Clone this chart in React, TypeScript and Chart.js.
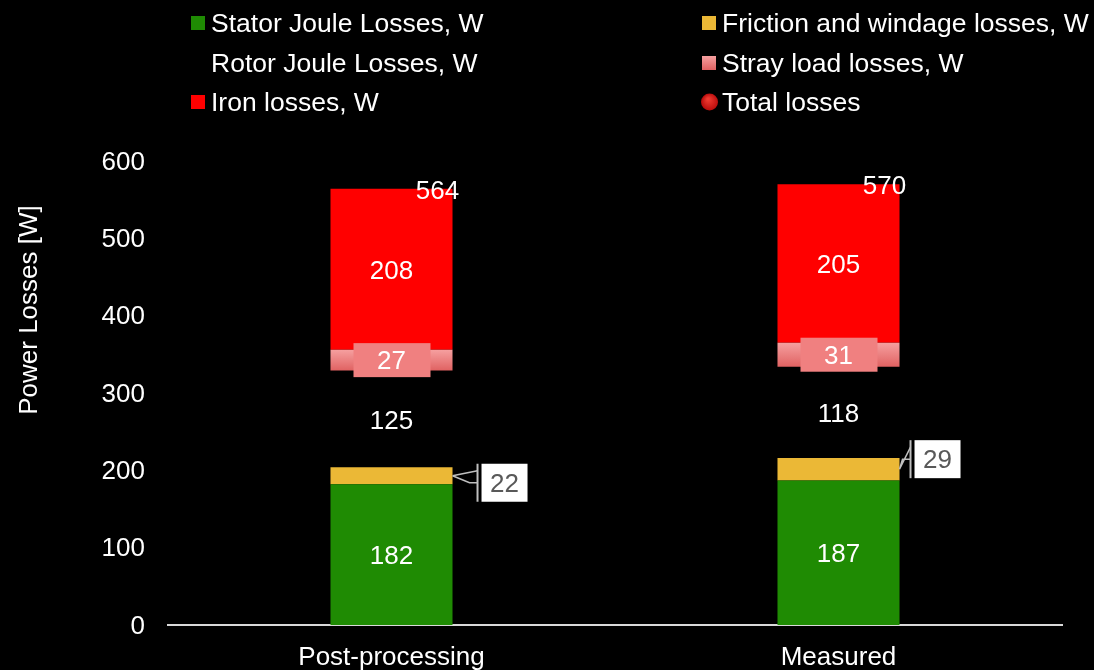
import React, { useEffect, useRef } from 'react';
import { Chart, registerables } from 'chart.js';

Chart.register(...registerables);

const categories = ['Post-processing', 'Measured'];
const statorJoule = [182, 187];
const frictionWindage = [22, 29];
const rotorJoule = [125, 118];
const strayLoad = [27, 31];
const ironLosses = [208, 205];
const totalLosses = [564, 570];
const yAxisMin = 0;
const yAxisMax = 600;
const yAxisStep = 100;
const yAxisTitle = 'Power Losses [W]';
const seriesNames = [
  'Stator Joule Losses, W',
  'Friction and windage losses, W',
  'Rotor Joule Losses, W',
  'Stray load losses, W',
  'Iron losses, W',
  'Total losses',
];

const FONT = '"Liberation Sans", Arial, Helvetica, sans-serif';
const GREEN = '#1f8b03';
const GOLD = '#ebb836';
const RED = '#ff0000';
const CORAL = '#f08080';

// label box offsets for the friction call-outs (style, not data)
const frictionCallout = [
  { dx: 29, dy: 7 },
  { dx: 15, dy: -10 },
];

function strayGradient(c: CanvasRenderingContext2D, top: number, bottom: number) {
  const g = c.createLinearGradient(0, top, 0, bottom);
  g.addColorStop(0, '#f6a0a0');
  g.addColorStop(1, '#e06262');
  return g;
}

const legendPlugin = {
  id: 'customLegend',
  afterDraw(chart: any) {
    const ctx: CanvasRenderingContext2D = chart.ctx;
    const cols = [191, 702];
    const rows = [23, 63, 102];
    ctx.save();
    ctx.font = `26.5px ${FONT}`;
    ctx.textBaseline = 'middle';
    ctx.textAlign = 'left';
    chart.data.datasets.forEach((ds: any, i: number) => {
      const cx = cols[i % 2];
      const cy = rows[Math.floor(i / 2)];
      if (ds.legendKind === 'circle') {
        const r = 8.5;
        const g = ctx.createRadialGradient(cx + 6, cy - 3, 1, cx + 8, cy, r);
        g.addColorStop(0, '#ee3a30');
        g.addColorStop(1, '#b80c0c');
        ctx.fillStyle = g;
        ctx.beginPath();
        ctx.arc(cx + 7.5, cy, r, 0, Math.PI * 2);
        ctx.fill();
      } else if (ds.legendKind === 'gradient') {
        ctx.fillStyle = strayGradient(ctx, cy - 7, cy + 7);
        ctx.fillRect(cx, cy - 7, 14, 14);
      } else {
        ctx.fillStyle = ds.legendColor;
        ctx.fillRect(cx, cy - 7, 14, 14);
      }
      ctx.fillStyle = '#ffffff';
      ctx.fillText(ds.label, cx + 20, cy + 1.5);
    });
    // y-axis title
    ctx.save();
    ctx.font = `26px ${FONT}`;
    ctx.translate(30, 310);
    ctx.rotate(-Math.PI / 2);
    ctx.textAlign = 'center';
    ctx.fillText(yAxisTitle, 0, 0);
    ctx.restore();
    ctx.restore();
  },
};

const valueLabelPlugin = {
  id: 'valueLabels',
  afterDatasetsDraw(chart: any) {
    const ctx: CanvasRenderingContext2D = chart.ctx;
    ctx.save();
    ctx.font = `26px ${FONT}`;
    ctx.textAlign = 'center';
    ctx.textBaseline = 'middle';
    chart.data.datasets.forEach((ds: any, di: number) => {
      const meta = chart.getDatasetMeta(di);
      meta.data.forEach((el: any, i: number) => {
        const v = ds.data[i];
        const p = el.getProps(['x', 'y', 'base', 'width'], true);
        const text = String(v);
        if (ds.labelKind === 'total') {
          ctx.fillStyle = '#ffffff';
          ctx.fillText(text, p.x + 46, p.y + 3);
          return;
        }
        const cy = (p.y + p.base) / 2;
        if (ds.labelKind === 'plain') {
          ctx.fillStyle = '#ffffff';
          ctx.fillText(text, p.x, cy + 2.5);
        } else if (ds.labelKind === 'boxed') {
          ctx.fillStyle = CORAL;
          ctx.fillRect(p.x - 38, cy - 17, 77, 34);
          ctx.fillStyle = '#ffffff';
          ctx.fillText(text, p.x, cy + 2);
        } else if (ds.labelKind === 'callout') {
          const off = frictionCallout[i];
          const right = p.x + p.width / 2;
          const bx = right + off.dx;
          const by = cy + off.dy - 19;
          const vx = bx - 4;
          ctx.strokeStyle = '#bfbfbf';
          ctx.lineWidth = 1.5;
          ctx.beginPath();
          ctx.moveTo(right, cy);
          ctx.lineTo(vx, by + 7);
          ctx.moveTo(right, cy);
          ctx.lineTo(vx - 8, by + 19);
          ctx.lineTo(vx, by + 19);
          ctx.stroke();
          ctx.lineWidth = 2;
          ctx.beginPath();
          ctx.moveTo(vx, by);
          ctx.lineTo(vx, by + 38);
          ctx.stroke();
          ctx.fillStyle = '#ffffff';
          ctx.fillRect(bx, by, 46, 38);
          ctx.fillStyle = '#595959';
          ctx.fillText(text, bx + 23, by + 21);
        }
      });
    });
    ctx.restore();
  },
};

export default function App() {
  const canvasRef = useRef<HTMLCanvasElement | null>(null);

  useEffect(() => {
    const canvas = canvasRef.current;
    if (!canvas) return;
    const strayBg = (c: any) => {
      const chart = c.chart;
      const y = chart.scales && chart.scales.y;
      const i = c.dataIndex;
      if (!y || i === undefined || c.type !== 'data') return CORAL;
      const start = statorJoule[i] + frictionWindage[i] + rotorJoule[i];
      const top = y.getPixelForValue(start + strayLoad[i]);
      const bottom = y.getPixelForValue(start);
      if (!isFinite(top) || !isFinite(bottom)) return CORAL;
      return strayGradient(chart.ctx, top, bottom);
    };
    const barCommon = {
      type: 'bar' as const,
      stack: 'losses',
      borderWidth: 0,
      barPercentage: 0.273,
      categoryPercentage: 1,
    };
    const chart = new Chart(canvas, {
      type: 'bar',
      data: {
        labels: categories,
        datasets: [
          { ...barCommon, label: seriesNames[0], data: statorJoule, backgroundColor: GREEN, legendColor: GREEN, labelKind: 'plain' } as any,
          { ...barCommon, label: seriesNames[1], data: frictionWindage, backgroundColor: GOLD, legendColor: GOLD, labelKind: 'callout' } as any,
          { ...barCommon, label: seriesNames[2], data: rotorJoule, backgroundColor: 'rgba(0,0,0,0)', legendColor: 'rgba(0,0,0,0)', labelKind: 'plain' } as any,
          { ...barCommon, label: seriesNames[3], data: strayLoad, backgroundColor: strayBg, legendKind: 'gradient', labelKind: 'boxed' } as any,
          { ...barCommon, label: seriesNames[4], data: ironLosses, backgroundColor: RED, legendColor: RED, labelKind: 'plain' } as any,
          {
            type: 'line',
            label: seriesNames[5],
            data: totalLosses,
            stack: 'total',
            showLine: false,
            pointRadius: 0,
            pointHoverRadius: 0,
            borderColor: '#c00000',
            backgroundColor: '#c00000',
            legendKind: 'circle',
            labelKind: 'total',
          } as any,
        ],
      },
      options: {
        responsive: false,
        animation: false,
        devicePixelRatio: 1,
        layout: { padding: { top: 161, right: 32, left: 0, bottom: 0 } },
        plugins: {
          legend: { display: false },
          tooltip: { enabled: false },
          title: { display: false },
        },
        scales: {
          x: {
            stacked: true,
            grid: { display: false, drawTicks: false },
            border: { display: true, color: '#d9d9d9', width: 2 },
            ticks: { color: '#ffffff', font: { family: FONT, size: 26 }, padding: 17, maxRotation: 0 },
            afterFit: (s: any) => { s.height = 45; },
          },
          y: {
            stacked: true,
            min: yAxisMin,
            max: yAxisMax,
            grid: { display: false, drawTicks: false, tickLength: 0 },
            border: { display: false },
            ticks: { stepSize: yAxisStep, color: '#ffffff', font: { family: FONT, size: 26 }, padding: 23, labelOffset: 1.5 },
            afterFit: (s: any) => { s.width = 168; },
          },
        },
      } as any,
      plugins: [legendPlugin, valueLabelPlugin],
    });
    return () => chart.destroy();
  }, []);

  return (
    <div style={{ position: 'fixed', left: 0, top: 0, width: 1094, height: 670, background: '#000000' }}>
      <canvas ref={canvasRef} width={1094} height={670} style={{ display: 'block', width: 1094, height: 670 }} />
    </div>
  );
}
